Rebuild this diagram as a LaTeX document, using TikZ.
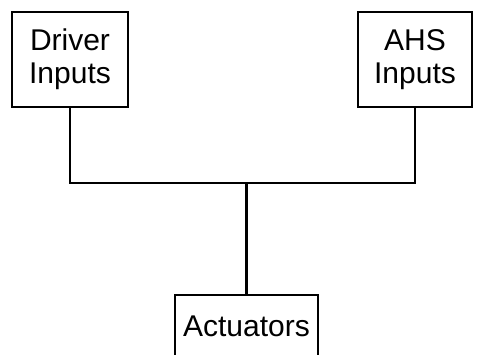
\documentclass[tikz,border=0pt]{standalone}
\usepackage{fontspec}
\setmainfont{Liberation Sans}
\begin{document}
\begin{tikzpicture}[x=1pt,y=-1pt,
  box/.style={draw=black, line width=2.4pt, align=center, inner sep=0pt,
    font=\fontsize{30}{33}\selectfont},
  wire/.style={draw=black, line width=2.4pt}]
\useasboundingbox (0,0) rectangle (484,354);
\clip (0,0) rectangle (484,354);
\node[box, minimum width=116pt, minimum height=95pt] (drv) at (70,59.5) {Driver\\Inputs};
\node[box, minimum width=114pt, minimum height=95pt] (ahs) at (415,59.5) {AHS\\Inputs};
\node[box, minimum width=143pt, minimum height=62pt] (act) at (246.5,326) {Actuators};
\coordinate (j) at (246.5,183);
\draw[wire] (drv.south) |- (j) -| (ahs.south);
\draw[wire] (j) -- (act.north);
\end{tikzpicture}
\end{document}
